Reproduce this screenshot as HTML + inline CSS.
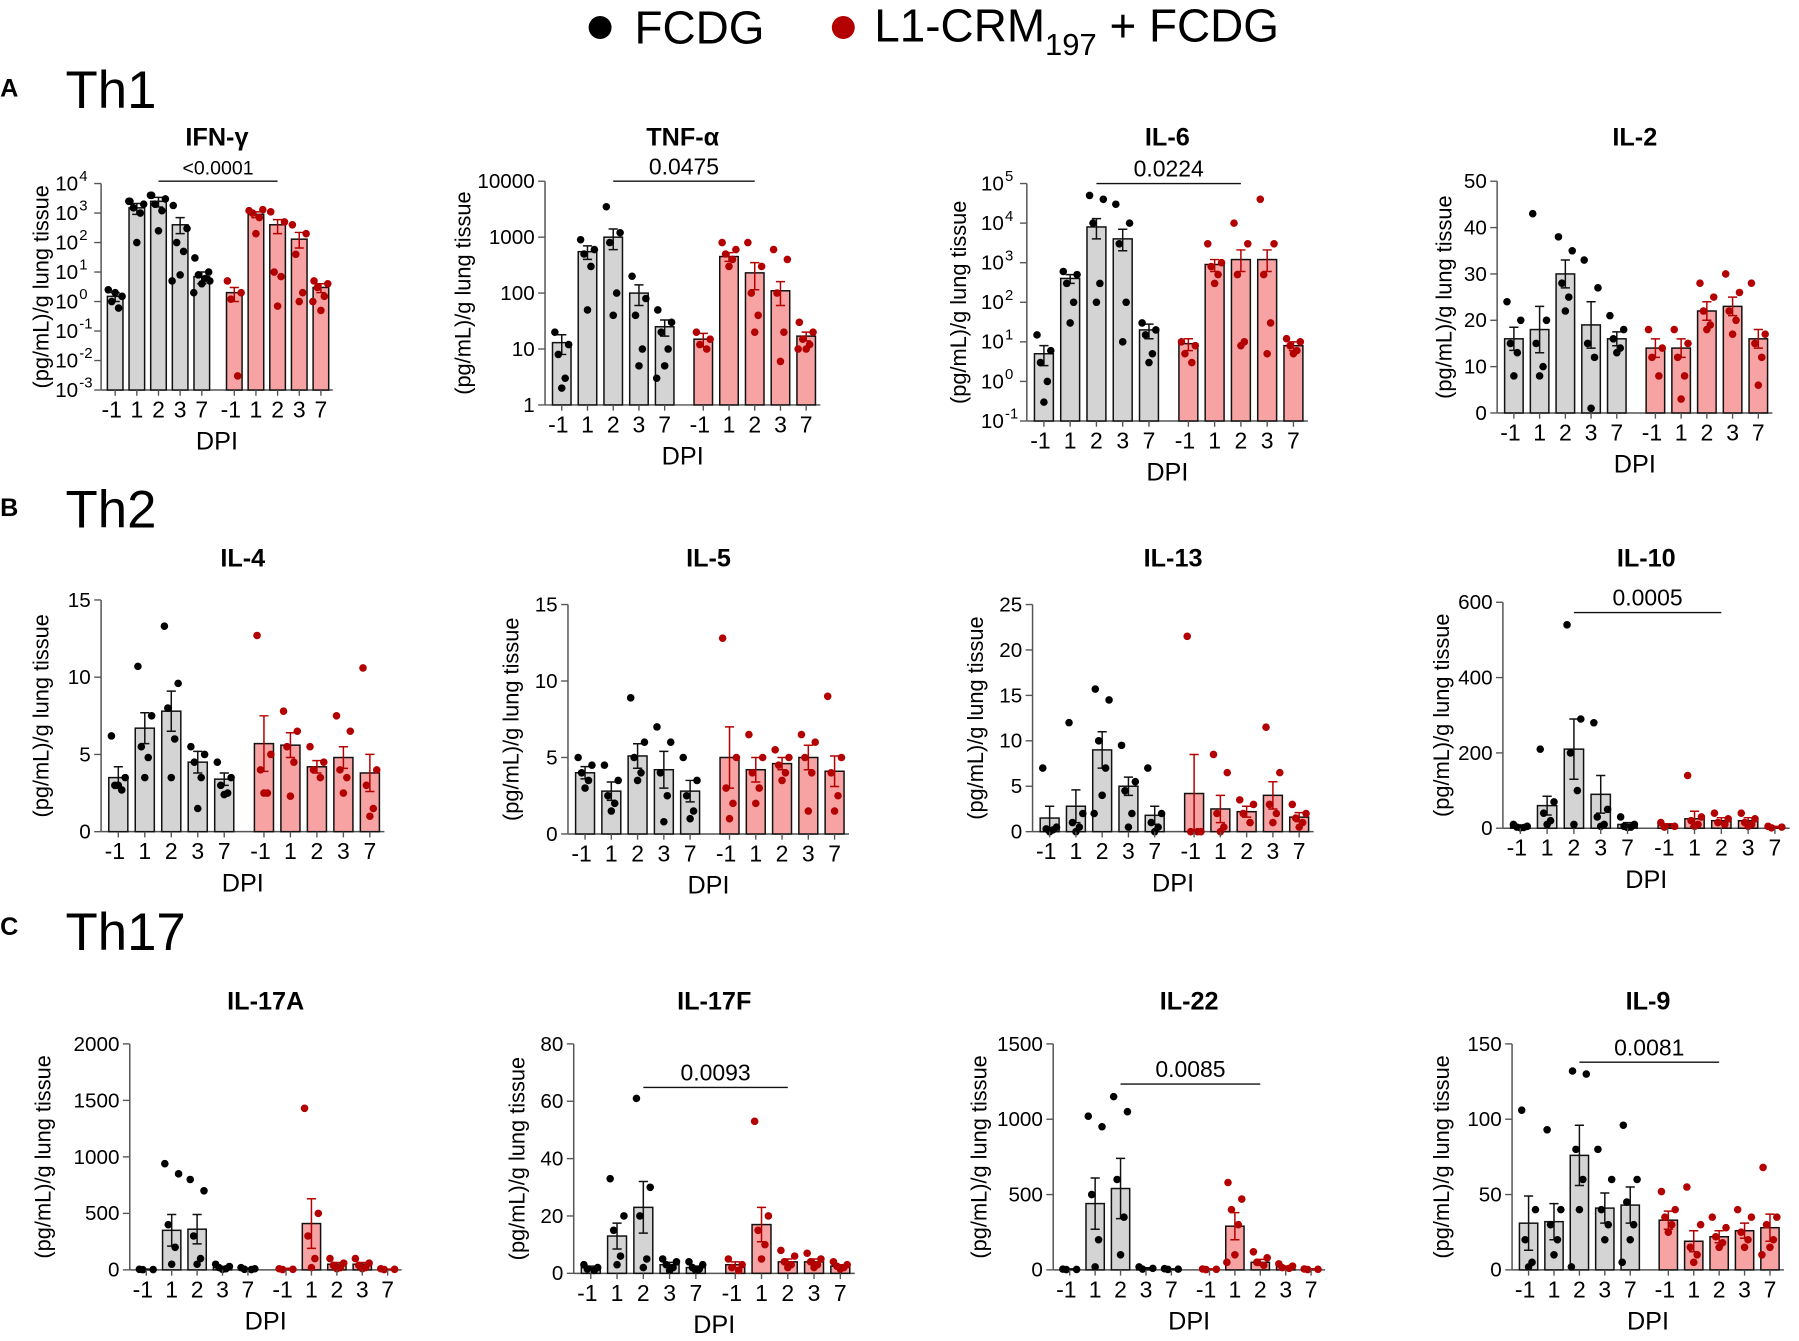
<!DOCTYPE html>
<html><head><meta charset="utf-8"><style>
html,body{margin:0;padding:0;background:#fff;}
svg{display:block;font-family:"Liberation Sans",Arial,sans-serif;}
</style></head><body>
<svg id="fig" width="1799" height="1341" viewBox="0 0 1568 1169" xmlns="http://www.w3.org/2000/svg">
<g>
<circle cx="523" cy="24" r="10" fill="#000"/>
<text x="553" y="38" font-size="40">FCDG</text>
<circle cx="735" cy="24" r="10" fill="#b30000"/>
<text x="762" y="36" font-size="40">L1-CRM<tspan font-size="27" dy="12">197</tspan><tspan dy="-12"> + FCDG</tspan></text>
</g>
<text x="0" y="84" font-size="22" font-weight="bold">A</text>
<text x="57" y="94" font-size="46">Th1</text>
<text x="0" y="450" font-size="22" font-weight="bold">B</text>
<text x="57" y="460" font-size="46">Th2</text>
<text x="0" y="815" font-size="22" font-weight="bold">C</text>
<text x="57" y="828" font-size="46">Th17</text>
</svg>
<script>
const dpiLabels=["-1","1","2","3","7","-1","1","2","3","7"];
const ifnMeans=[1.5,1500,2500,400,7,2,900,400,130,3];
const ifnSem=[0.5,600,900,300,3,1,200,200,90,1];
const ifnPts=[[2.5,1.5,1,0.6,2],[2500,2000,1500,1000,100,2500],[4000,3000,2000,1200,250,4000],[1800,300,100,50,8,5],[30,10,8,6,4,2,5],[5,2,1.2,0.003],[1200,1300,1000,700,200],[1100,500,10,7,0.7],[400,200,40,2,1],[5,4,3,1.5,0.5,1]];
const tnfMeans=[13,550,1000,100,25,15,450,230,110,17];
const tnfSem=[5,150,400,40,8,4,80,120,50,3];
const tnfPts=[[20,12,8,3,2],[900,600,500,300,50],[3500,1200,800,100,40],[200,80,40,10,5],[50,30,20,10,5,3],[20,15,12,10],[800,600,500,400,300],[800,300,100,40,20],[600,400,100,20,6],[30,20,15,12,10,10]];
const il6Means=[5,400,8000,4000,20,9,900,1200,1200,8];
const il6Sem=[3,100,5000,3000,8,3,300,900,900,2];
const il6Pts=[[15,6,3,1,0.3],[600,500,300,100,30],[50000,40000,10000,300,100],[30000,10000,3000,100,10],[30,20,15,5,3],[10,8,5,3],[3000,1000,800,500,300],[10000,3000,500,10,8],[40000,3000,500,30,5],[12,10,8,6,5]];
const il2Means=[16,18,30,19,16,14,14,22,23,16];
const il2Sem=[2.5,5,3,5,1.5,2,2,2,2,2];
const il2Pts=[[24,20,15,13,8],[43,20,15,10,8],[38,35,28,25,22],[33,27,15,12,1],[21,18,16,14,13],[18,14,12,8],[18,15,12,8,3],[28,25,22,19,18],[30,26,22,20,17],[28,17,15,12,6]];
const il4Means=[3.5,6.7,7.8,4.5,3.4,5.7,5.6,4.2,4.8,3.8];
const il4Sem=[0.7,1,1.3,0.7,0.4,1.8,0.8,0.4,0.7,1.2];
const il4Pts=[[6.2,3.5,3,2.7,3],[10.7,7.5,5.5,4.8,3.5],[13.3,9.6,8,6,3.5],[5.5,5,4.5,3.5,1.5],[4.5,3.5,3,2.5,2.4],[12.7,5,4,2.5,2.5],[7.8,6.5,5.5,4.5,2.3],[5.5,4.5,4,3.5],[7.5,6.5,4,3.5,2.5],[10.6,4,3,1.5,1]];
const il5Means=[4,2.8,5.1,4.2,2.8,5,4.2,4.6,5,4.1];
const il5Sem=[0.4,0.6,0.8,1.2,0.7,2,0.8,0.4,0.8,1];
const il5Pts=[[5,4.5,4,3.5,3],[4.5,3.5,2.5,2,1.5],[8.9,6,5,4,3.5],[7,6,4,2.5,0.8],[5,3.5,2.5,1.5,1],[12.8,5,3,2,1],[6.5,5,4,3,2],[5.5,5,4.5,4,3.5],[6.5,6,5,4,1.5],[9,5,4,2.5,1.5]];
const il13Means=[1.5,2.8,9,5,1.8,4.2,2.5,2.2,4,1.6];
const il13Sem=[1.3,1.8,2,1,1,4.3,1.5,0.6,1.5,0.5];
const il13Pts=[[7,0.5,0.3,0.2,0],[12,2,1,0.5,0],[15.7,14.5,10,7,4,2],[9.5,5.5,4.5,2,0.5],[7,2,1,0.5,0],[21.5,0,0,0],[8.5,6.5,2,0.5,0],[3.5,3,2,1],[11.5,6.5,3,2,1],[3,2,1.5,1,0.5]];
const il10Means=[5,60,210,90,10,8,25,20,20,3];
const il10Sem=[3,25,80,50,5,4,20,8,8,2];
const il10Pts=[[10,5,3,2,1],[210,70,40,20,10],[540,290,200,100,10],[280,50,30,10,5],[30,10,5,3,2],[15,5,3],[140,30,20,10,5],[40,25,15,10],[40,25,15,10,5],[5,3,1]];
const il17aMeans=[5,350,360,20,10,10,410,50,50,5];
const il17aSem=[2,140,130,8,4,4,220,15,15,2];
const il17aPts=[[5,3,2],[940,850,400,200,50],[800,700,300,100,50],[50,30,20,10,5],[20,10,5,3],[10,5,3],[1430,500,300,100,20],[100,60,40,20,10],[100,60,40,20,10],[10,5,3]];
const il17fMeans=[2,13,23,3,2,3,17,4,4,2.5];
const il17fSem=[0.5,4.5,9,0.8,0.5,1,6,1,1,0.5];
const il17fPts=[[3,2,1.5,1],[33,20,15,6,3],[61,30,20,5,2],[5,4,3,2,1],[4,3,2,1.5,1],[5,3,2,1],[53,20,15,10,5],[8,6,4,3,2],[7,5,4,3,2],[4,3,2.5,2,1.5]];
const il22Means=[5,440,540,10,5,5,290,50,20,5];
const il22Sem=[2,170,200,4,2,2,90,20,6,2];
const il22Pts=[[5,3,2],[1020,950,500,200,20],[1150,1050,600,350,100],[20,10,5],[8,5,3],[6,4,2],[580,470,400,300,100,50],[120,80,50,30],[40,25,15,10],[6,4,2]];
const il9Means=[31,32,76,41,43,33,19,22,26,28];
const il9Sem=[18,12,20,10,12,6,7,4,5,9];
const il9Pts=[[106,40,20,5,2],[93,40,30,20,10],[132,130,80,60,40,2],[80,60,40,30,20],[96,60,45,30,20,5],[52,40,35,30,25],[55,30,15,10,5],[35,28,22,18,15],[40,35,25,20,15],[68,35,30,20,15,10]];

const NS="http://www.w3.org/2000/svg";
const svg=document.getElementById('fig');
function mk(tag,attrs,parent){const e=document.createElementNS(NS,tag);for(const k in attrs)e.setAttribute(k,attrs[k]);(parent||svg).appendChild(e);return e;}
const jit=[-6,6,-3,3,0,-7,7];
function panel(c,means,sem,pts){
  const g=mk('g',{});
  
  
  let yf;
  if(c.log){yf=v=>{const l=Math.log10(Math.max(v,Math.pow(10,c.min)));return c.yb-(l-c.min)/(c.max-c.min)*(c.yb-c.yt);};}
  else{yf=v=>c.yb-(v-c.min)/(c.max-c.min)*(c.yb-c.yt);}
  const unit=(c.x1-c.x0)/10.7;
  const xf=i=>c.x0+unit*(0.65+(i<5?i:i+0.5));
  const bw=unit*0.72;
  const t=mk('text',{x:(c.x0+c.x1)/2,y:c.ty,'font-size':22,'font-weight':'bold','text-anchor':'middle'},g);t.textContent=c.title;
  
  const cy=(c.yt+c.yb)/2;
  const yl=mk('text',{x:c.ylx,y:cy,'font-size':19,'text-anchor':'middle',transform:`rotate(-90 ${c.ylx} ${cy})`},g);yl.textContent='(pg/mL)/g lung tissue';
  
  const ya=mk('line',{x1:c.x0,x2:c.x0,y1:c.yt,y2:c.yb,stroke:'#555','stroke-width':1.3},g);
  
  const xa=mk('line',{x1:c.x0,x2:c.x1,y1:c.yb,y2:c.yb,stroke:'#555','stroke-width':1.3},g);
  
  const ticks=[];
  if(c.log){for(let e=c.min;e<=c.max;e++)ticks.push(e);}else{for(let v=c.min;v<=c.max+1e-9;v+=c.step)ticks.push(v);}
  ticks.forEach(tv=>{
    const y=c.log?c.yb-(tv-c.min)/(c.max-c.min)*(c.yb-c.yt):yf(tv);
    mk('line',{x1:c.x0-6,x2:c.x0,y1:y,y2:y,stroke:'#555','stroke-width':1.2},g);
    const tl=mk('text',{x:c.x0-9,y:y+6,'font-size':18,'text-anchor':'end'},g);
    
    if(c.log&&c.plain){tl.textContent=String(Math.pow(10,tv));}
    else if(c.log){tl.textContent='10';const s=mk('tspan',{'font-size':13,dy:-8},tl);s.textContent=String(tv);tl.setAttribute('x',c.x0-20);tl.setAttribute('text-anchor','end');s.setAttribute('x',c.x0-19);s.setAttribute('text-anchor','start');}
    else tl.textContent=String(tv);
  });
  for(let i=0;i<10;i++){
    const red=i>=5;const x=xf(i);
    const yb=yf(means[i]);
    const b=mk('rect',{x:x-bw/2,y:yb,width:bw,height:c.yb-yb,fill:red?'#f7a3a3':'#d4d4d4',stroke:'#111','stroke-width':1.3},g);
    
    const ec=red?'#b30000':'#111';
    const yt=yf(means[i]+sem[i]),ylo=yf(Math.max(means[i]-sem[i],c.log?means[i]*0.5:0));
    const eb=mk('path',{d:`M${x},${ylo}V${yt}M${x-4},${yt}H${x+4}M${x-4},${ylo}H${x+4}`,stroke:ec,'stroke-width':1.3,fill:'none'},g);
    
    pts[i].forEach((p,k)=>{
      const d=mk('circle',{cx:x+jit[k%jit.length],cy:yf(p),r:3.3,fill:red?'#b30000':'#000'},g);
      
    });
    mk('line',{x1:x,x2:x,y1:c.yb,y2:c.yb+5,stroke:'#555','stroke-width':1.2},g);
    const xl=mk('text',{x:x-(dpiLabels[i]==='-1'?3:0),y:c.yb+24,'font-size':20,'text-anchor':'middle'},g);xl.textContent=dpiLabels[i];
    
  }
  const dl=mk('text',{x:(c.x0+c.x1)/2,y:c.yb+52,'font-size':22,'text-anchor':'middle'},g);dl.textContent='DPI';
  
  if(c.p){
    const by=c.by;
    const bl=mk('line',{x1:xf(2),x2:xf(7),y1:by,y2:by,stroke:'#111','stroke-width':1.2},g);
    
    const pl=mk('text',{x:(xf(2)+xf(7))/2,y:by-6,'font-size':c.p.startsWith('<')?17:20,'text-anchor':'middle'},g);pl.textContent=c.p;
    
  }
}
panel({id:'ifn-gamma',title:'IFN-γ',x0:88,x1:290,yt:160,yb:340,log:true,min:-3,max:4,ty:127,ylx:42,p:'<0.0001',by:158},ifnMeans,ifnSem,ifnPts);
panel({id:'tnf-alpha',title:'TNF-α',x0:475,x1:715,yt:158,yb:353,log:true,plain:true,min:0,max:4,ty:127,ylx:410,p:'0.0475',by:158},tnfMeans,tnfSem,tnfPts);
panel({id:'il-6',title:'IL-6',x0:895,x1:1140,yt:160,yb:367,log:true,min:-1,max:5,ty:127,ylx:842,p:'0.0224',by:160},il6Means,il6Sem,il6Pts);
panel({id:'il-2',title:'IL-2',x0:1305,x1:1545,yt:158,yb:360,min:0,max:50,step:10,ty:127,ylx:1265},il2Means,il2Sem,il2Pts);
panel({id:'il-4',title:'IL-4',x0:88,x1:335,yt:523,yb:725,min:0,max:15,step:5,ty:494,ylx:42},il4Means,il4Sem,il4Pts);
panel({id:'il-5',title:'IL-5',x0:495,x1:740,yt:527,yb:727,min:0,max:15,step:5,ty:494,ylx:452},il5Means,il5Sem,il5Pts);
panel({id:'il-13',title:'IL-13',x0:900,x1:1145,yt:527,yb:725,min:0,max:25,step:5,ty:494,ylx:857},il13Means,il13Sem,il13Pts);
panel({id:'il-10',title:'IL-10',x0:1310,x1:1560,yt:525,yb:722,min:0,max:600,step:200,ty:494,ylx:1263,p:'0.0005',by:534},il10Means,il10Sem,il10Pts);
panel({id:'il-17a',title:'IL-17A',x0:113,x1:350,yt:910,yb:1107,min:0,max:2000,step:500,ty:880,ylx:44},il17aMeans,il17aSem,il17aPts);
panel({id:'il-17f',title:'IL-17F',x0:500,x1:745,yt:910,yb:1110,min:0,max:80,step:20,ty:880,ylx:457,p:'0.0093',by:948},il17fMeans,il17fSem,il17fPts);
panel({id:'il-22',title:'IL-22',x0:918,x1:1155,yt:910,yb:1107,min:0,max:1500,step:500,ty:880,ylx:860,p:'0.0085',by:945},il22Means,il22Sem,il22Pts);
panel({id:'il-9',title:'IL-9',x0:1318,x1:1555,yt:910,yb:1107,min:0,max:150,step:50,ty:880,ylx:1263,p:'0.0081',by:926},il9Means,il9Sem,il9Pts);
</script>
</body></html>
